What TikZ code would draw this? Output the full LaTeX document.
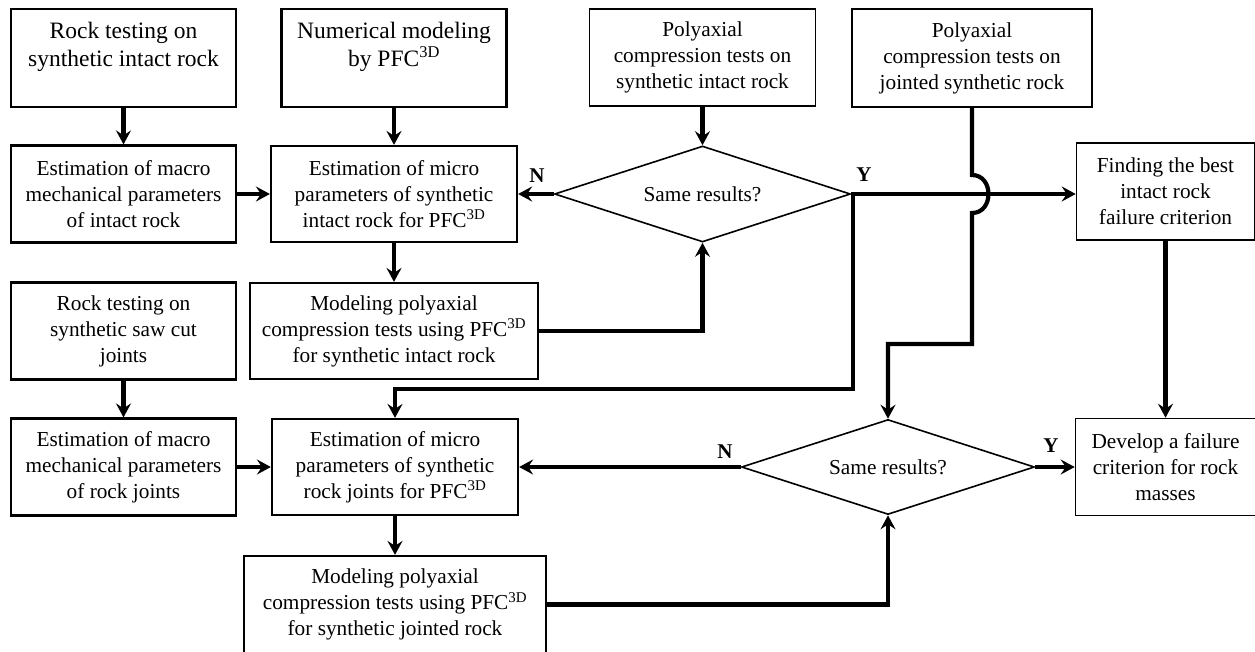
\documentclass[tikz,border=0pt]{standalone}
\usepackage{fontspec}
\setmainfont{Liberation Serif}
\usetikzlibrary{shapes.geometric,arrows.meta}
\begin{document}
\begin{tikzpicture}[x=1pt,y=-1pt,
  box/.style={draw,line width=2.2pt,align=center,inner sep=0pt,font=\fontsize{21.3}{26}\selectfont},
  topbox/.style={box,font=\fontsize{23.5}{28}\selectfont},
  thinbox/.style={box,line width=1.6pt},
  dia/.style={draw,diamond,line width=1.6pt,inner sep=0pt,font=\fontsize{21.3}{26}\selectfont},
  conn/.style={line width=4.2pt,-{Stealth[length=14pt,width=15pt,inset=5pt]}},
  yn/.style={font=\bfseries\fontsize{21}{24}\selectfont}]
\useasboundingbox (0,0) rectangle (1255,651);
% left column
\node[topbox,minimum width=225pt,minimum height=98pt] (A) at (123.5,58) {Rock testing on\\synthetic intact rock\\\mbox{}};
\node[box,minimum width=225pt,minimum height=97pt] (C) at (123.5,194) {Estimation of macro\\mechanical parameters\\of intact rock};
\node[box,minimum width=225pt,minimum height=97pt] (E) at (123.5,331) {Rock testing on\\synthetic saw cut\\joints};
\node[box,minimum width=225pt,minimum height=97pt] (C2) at (123.5,467) {Estimation of macro\\mechanical parameters\\of rock joints};
% middle column
\node[topbox,minimum width=225pt,minimum height=98pt] (B) at (394,58) {Numerical modeling\\by PFC\textsuperscript{3D}\\\mbox{}};
\node[box,minimum width=246pt,minimum height=96pt] (D) at (394,194) {Estimation of micro\\parameters of synthetic\\intact rock for PFC\textsuperscript{3D}};
\node[box,minimum width=288pt,minimum height=96pt] (F) at (394,331) {Modeling polyaxial\\compression tests using PFC\textsuperscript{3D}\\for synthetic intact rock};
\node[box,minimum width=246pt,minimum height=96pt] (G) at (395,467) {Estimation of micro\\parameters of synthetic\\rock joints for PFC\textsuperscript{3D}};
\node[box,minimum width=302pt,minimum height=97pt] (H) at (395,604.5) {Modeling polyaxial\\compression tests using PFC\textsuperscript{3D}\\for synthetic jointed rock};
% right part
\node[topbox,thinbox,minimum width=226pt,minimum height=97pt] (P1) at (702.5,57.5) {Polyaxial\\compression tests on\\synthetic intact rock};
\node[topbox,thinbox,minimum width=240pt,minimum height=98pt] (P2) at (972,58) {Polyaxial\\compression tests on\\jointed synthetic rock};
\node[dia,minimum width=296pt,minimum height=96pt,aspect=3.08] (Dia1) at (702.5,194) {Same results?};
\node[dia,minimum width=293pt,minimum height=95pt,aspect=3.08] (Dia2) at (888,467) {Same results?};
\node[thinbox,minimum width=178pt,minimum height=97pt] (R1) at (1165.5,191.5) {Finding the best\\intact rock\\failure criterion};
\node[thinbox,minimum width=180pt,minimum height=97pt] (R2) at (1165.5,467) {Develop a failure\\criterion for rock\\masses};
% labels
\node[yn] (n1) at (537,176) {N};
\node[yn] (y1) at (864,175) {Y};
\node[yn] (n2) at (725,452) {N};
\node[yn] (y2) at (1051,446) {Y};
% junction coordinates
\coordinate (j1) at (853,389);
\coordinate (j2) at (972,344);
% connectors
\draw[conn] (A) -- (C);
\draw[conn] (C) -- (D);
\draw[conn] (E) -- (C2);
\draw[conn] (C2) -- (G);
\draw[conn] (B.south) -- (B.south |- D.north);
\draw[conn] (D) -- (F);
\draw[conn] (G) -- (H);
\draw[conn] (P1) -- (Dia1);
\draw[conn] (Dia1.west) -- (D.east);
\draw[conn] (F.east) -| (Dia1.south);
\draw[conn] (Dia1.east) -- (Dia1.east -| R1.west);
\draw[conn] (Dia1.east) -| (j1) -| (G.north);
\draw[conn] (P2.south) -- (972,175) .. controls (994,175) and (994,213) .. (972,213) -- (j2) -| (Dia2.north);
\draw[conn] (H.east) -| (Dia2.south);
\draw[conn] (Dia2.west) -- (G.east);
\draw[conn] (Dia2.east) -- (R2.west);
\draw[conn] (R1) -- (R2);
\end{tikzpicture}
\end{document}
